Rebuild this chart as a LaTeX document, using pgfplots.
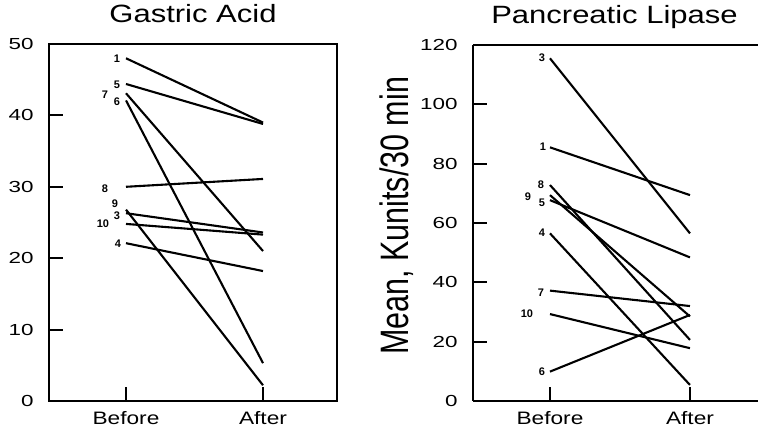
\documentclass[border=0pt]{standalone}
\usepackage{fontspec}
\setmainfont{Liberation Sans}
\usepackage{pgfplots}
\pgfplotsset{compat=1.18}

\tikzset{lab/.style={font=\fontsize{11}{11}\selectfont\bfseries, inner sep=0pt, anchor=center}}
\pgfplotsset{
  panel/.style={
    scale only axis,
    anchor=south west,
    axis line style={line width=2.4pt},
    every tick/.style={black, line width=2pt},
    tick align=inside,
    major tick length=14pt,
    xtick={1,2},
    xticklabels={\scalebox{1.26}[1]{Before},\scalebox{1.26}[1]{After}},
    xticklabel style={font=\fontsize{18}{18}\selectfont, anchor=north, yshift=-7pt},
    yticklabel style={font=\fontsize{16}{16}\selectfont, anchor=east, xshift=-12pt},
    yticklabel={\scalebox{1.4}[1]{\pgfmathprintnumber{\tick}}},
    /pgf/number format/assume math mode=true,
    ymin=0,
    title style={font=\fontsize{25}{25}\selectfont, at={(0.5,1)}, anchor=base, yshift=15pt},
    clip=false,
  },
  pl/.style={black, line width=2.1pt, mark=none},
}

\begin{document}
\begin{tikzpicture}
\useasboundingbox (0,0) rectangle (758pt,430pt);

% ---------------- Gastric Acid ----------------
\begin{axis}[panel,
  at={(49pt,29pt)}, width=288pt, height=357pt,
  xmin=0.438, xmax=2.540, ymax=50,
  ytick={0,10,20,30,40,50},
  xtick pos=bottom, ytick pos=left,
  title={\scalebox{1.24}[1]{Gastric Acid}},
]
\addplot[pl] coordinates {(1,48.0) (2,39.0)};   % 1
\addplot[pl] coordinates {(1,44.4) (2,38.8)};   % 5
\addplot[pl] coordinates {(1,43.1) (2,21.0)};   % 7
\addplot[pl] coordinates {(1,42.1) (2,5.3)};    % 6
\addplot[pl] coordinates {(1,30.0) (2,31.1)};   % 8
\addplot[pl] coordinates {(1,26.8) (2,2.2)};    % 9
\addplot[pl] coordinates {(1,26.3) (2,23.6)};   % 3
\addplot[pl] coordinates {(1,24.8) (2,23.3)};   % 10
\addplot[pl] coordinates {(1,22.1) (2,18.2)};   % 4
\node[lab, xshift=-9pt]  at (axis cs:1,47.9) {1};
\node[lab, xshift=-9pt]  at (axis cs:1,44.3) {5};
\node[lab, xshift=-21pt] at (axis cs:1,42.9) {7};
\node[lab, xshift=-9pt]  at (axis cs:1,41.9) {6};
\node[lab, xshift=-21pt] at (axis cs:1,29.8) {8};
\node[lab, xshift=-11pt] at (axis cs:1,27.7) {9};
\node[lab, xshift=-9pt]  at (axis cs:1,25.9) {3};
\node[lab, xshift=-23pt] at (axis cs:1,24.8) {10};
\node[lab, xshift=-8pt]  at (axis cs:1,22.0) {4};
\end{axis}

% ---------------- Pancreatic Lipase ----------------
\begin{axis}[panel,
  at={(473pt,29pt)}, width=285pt, height=356pt,
  xmin=0.45, xmax=2.486, ymax=120,
  ytick={0,20,40,60,80,100,120},
  axis y line*=left, axis x line*=box,
  xtick pos=bottom, ytick pos=left,
  title={\scalebox{1.24}[1]{Pancreatic Lipase}},
  title style={at={(0.5,1)}, xshift=-1pt},
  ylabel={\scalebox{1}[1.3]{Mean, Kunits/30 min}},
  ylabel style={font=\fontsize{30.5}{30.5}\selectfont, at={(axis description cs:-0.267,0.52)}, anchor=center},
]
\addplot[pl] coordinates {(1,115.5) (2,56.5)};  % 3
\addplot[pl] coordinates {(1,85.5) (2,69.4)};   % 1
\addplot[pl] coordinates {(1,72.8) (2,20.6)};   % 8
\addplot[pl] coordinates {(1,69.4) (2,28.5)};   % 9
\addplot[pl] coordinates {(1,67.7) (2,48.4)};   % 5
\addplot[pl] coordinates {(1,56.5) (2,5.4)};    % 4
\addplot[pl] coordinates {(1,37.2) (2,32.0)};   % 7
\addplot[pl] coordinates {(1,29.3) (2,17.8)};   % 10
\addplot[pl] coordinates {(1,9.9) (2,29.0)};    % 6
\node[lab, xshift=-8pt]  at (axis cs:1,115.6) {3};
\node[lab, xshift=-7pt]  at (axis cs:1,85.6) {1};
\node[lab, xshift=-9pt]  at (axis cs:1,72.8) {8};
\node[lab, xshift=-22pt] at (axis cs:1,68.8) {9};
\node[lab, xshift=-8pt]  at (axis cs:1,66.7) {5};
\node[lab, xshift=-8pt]  at (axis cs:1,56.6) {4};
\node[lab, xshift=-9pt]  at (axis cs:1,36.4) {7};
\node[lab, xshift=-23pt] at (axis cs:1,29.3) {10};
\node[lab, xshift=-8pt]  at (axis cs:1,9.8) {6};
\end{axis}
\end{tikzpicture}
\end{document}
